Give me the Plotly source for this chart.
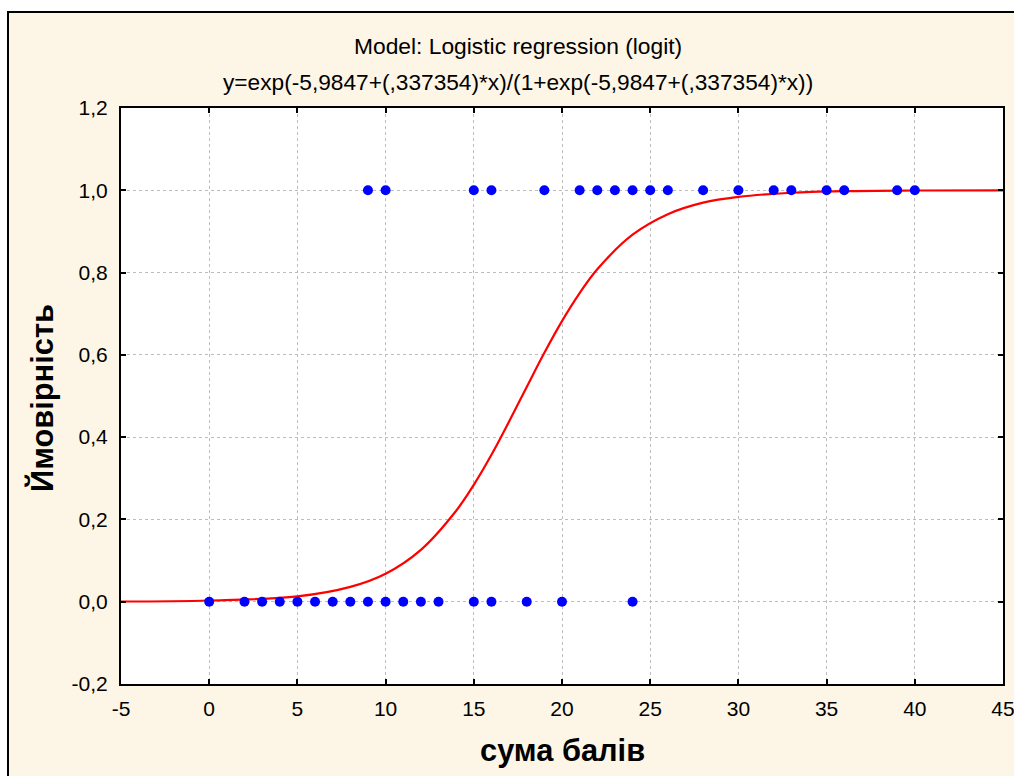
import plotly.graph_objects as go

x_zero = [0, 2, 3, 4, 5, 6, 7, 8, 9, 10, 11, 12, 13, 15, 16, 18, 20, 24]
y_zero = [0] * len(x_zero)
x_one = [9, 10, 15, 16, 19, 21, 22, 23, 24, 25, 26, 28, 30, 32, 33, 35, 36, 39, 40]
y_one = [1] * len(x_one)

# Fitted curve
curve_x = [-5, 0, 5, 8, 10, 12, 14, 15, 16, 17, 18, 19, 20, 21, 22, 24, 26, 28, 30, 33, 36, 40, 45]
curve_y = [0.0005, 0.003, 0.013, 0.036, 0.068, 0.126, 0.221, 0.284, 0.357, 0.438, 0.522, 0.605,
           0.682, 0.750, 0.808, 0.892, 0.942, 0.970, 0.984, 0.994, 0.998, 0.9995, 0.9999]

x_ticks = [-5, 0, 5, 10, 15, 20, 25, 30, 35, 40, 45]
x_ticktext = ["-5", "0", "5", "10", "15", "20", "25", "30", "35", "40", "45"]
y_ticks = [-0.2, 0.0, 0.2, 0.4, 0.6, 0.8, 1.0, 1.2]
y_ticktext = ["-0,2", "0,0", "0,2", "0,4", "0,6", "0,8", "1,0", "1,2"]

title1 = "Model: Logistic regression (logit)"
title2 = "y=exp(-5,9847+(,337354)*x)/(1+exp(-5,9847+(,337354)*x))"
x_title = "сума балів"
y_title = "Ймовірність"

FONT = "Liberation Sans, Arial, sans-serif"
CREAM = "#FDF6E6"

fig = go.Figure()
fig.add_trace(go.Scatter(x=curve_x, y=curve_y, mode="lines", line=dict(color="#FF0000", width=2.2, shape="spline"),
                         hoverinfo="skip", showlegend=False))
fig.add_trace(go.Scatter(x=x_zero + x_one, y=y_zero + y_one, mode="markers",
                         marker=dict(color="#0000FF", size=10, line=dict(width=0)), showlegend=False))

L, R, T, B = 121, 11, 108, 92
W, H = 1014, 776
pw, ph = W - L - R, H - T - B

def px2x(px):
    return (px - L) / pw

def py2y(py):
    return (H - B - py) / ph

fig.update_layout(
    width=W, height=H, autosize=False,
    margin=dict(l=L, r=R, t=T, b=B, pad=0),
    paper_bgcolor="white", plot_bgcolor="white",
    font=dict(family=FONT, color="black", size=21),
    shapes=[
        dict(type="rect", xref="paper", yref="paper", x0=px2x(8), x1=px2x(1030), y0=py2y(800), y1=py2y(12),
             fillcolor=CREAM, line=dict(color="black", width=2), layer="below"),
        dict(type="rect", xref="paper", yref="paper", x0=0, x1=1, y0=0, y1=1,
             fillcolor="white", line=dict(width=0), layer="below"),
    ],
    annotations=[
        dict(text=title1, xref="paper", yref="paper", x=px2x(518), y=py2y(46), xanchor="center", yanchor="middle",
             showarrow=False, font=dict(size=22.8)),
        dict(text=title2, xref="paper", yref="paper", x=px2x(518), y=py2y(82), xanchor="center", yanchor="middle",
             showarrow=False, font=dict(size=22.7)),
        dict(text="<b>" + x_title + "</b>", xref="paper", yref="paper", x=px2x(562), y=py2y(750),
             xanchor="center", yanchor="middle", showarrow=False, font=dict(size=30.8)),
        dict(text="<b>" + y_title + "</b>", xref="paper", yref="paper", x=px2x(42), y=py2y(398),
             xanchor="center", yanchor="middle", showarrow=False, textangle=-90, font=dict(size=30.8)),
    ],
)
fig.update_xaxes(range=[-5, 45], tickvals=x_ticks, ticktext=x_ticktext,
                 showline=True, linecolor="black", linewidth=2, mirror="ticks",
                 ticks="inside", ticklen=5, tickwidth=2, tickcolor="black",
                 showgrid=True, gridcolor="#BDBDBD", griddash="dot", gridwidth=1,
                 zeroline=False, ticklabelstandoff=5, automargin=False, ticklabeloverflow="allow")
fig.update_yaxes(range=[-0.2, 1.2], tickvals=y_ticks, ticktext=y_ticktext,
                 showline=True, linecolor="black", linewidth=2, mirror="ticks",
                 ticks="inside", ticklen=5, tickwidth=2, tickcolor="black",
                 showgrid=True, gridcolor="#BDBDBD", griddash="dot", gridwidth=1,
                 zeroline=False, ticklabelstandoff=7, automargin=False, ticklabeloverflow="allow")

fig.write_html("out.html",
               config={"responsive": False, "displayModeBar": False},
               post_script="document.body.style.margin='0';document.body.style.overflow='hidden';")
